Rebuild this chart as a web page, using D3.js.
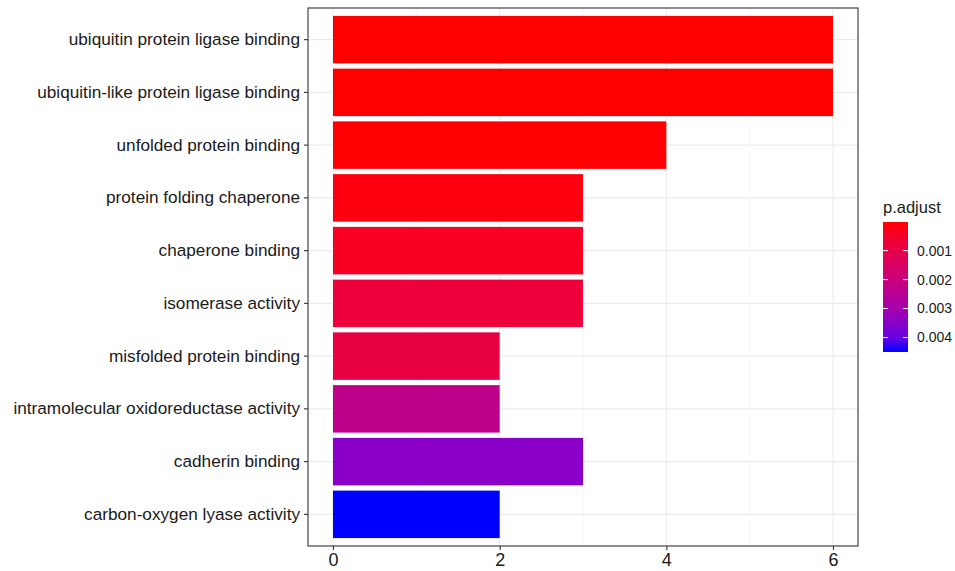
<!DOCTYPE html>
<html>
<head>
<meta charset="utf-8">
<script src="https://cdn.jsdelivr.net/npm/d3@7"></script>
<style>
  html, body { margin: 0; padding: 0; background: #fff; }
  svg { display: block; font-family: "Liberation Sans", Arial, sans-serif; }
</style>
</head>
<body>
<svg id="chart" width="955" height="571"></svg>
<script>
// GO molecular-function enrichment: gene count per term, coloured by adjusted p-value
const terms = [
  "ubiquitin protein ligase binding",
  "ubiquitin-like protein ligase binding",
  "unfolded protein binding",
  "protein folding chaperone",
  "chaperone binding",
  "isomerase activity",
  "misfolded protein binding",
  "intramolecular oxidoreductase activity",
  "cadherin binding",
  "carbon-oxygen lyase activity"
];
const counts = [6, 6, 4, 3, 3, 3, 2, 2, 3, 2];
const pAdjust = [0.00001, 0.00001, 0.00003, 0.00013, 0.00035, 0.00075, 0.0009, 0.0023, 0.0035, 0.0045];
const xTicks = [0, 2, 4, 6];
const legendTicks = [0.001, 0.002, 0.003, 0.004];

const svg = d3.select("#chart");
const panel = { left: 308, top: 8, right: 858, bottom: 546 };

// ggplot-style expansion: 5% on the continuous axis, 0.6 units on the discrete one
const xMax = d3.max(counts);
const x = d3.scaleLinear()
  .domain([-0.05 * xMax, xMax * 1.05])
  .range([panel.left, panel.right]);

const n = terms.length;
const yUnit = (panel.bottom - panel.top) / (n - 1 + 1.2);
const y = d3.scaleBand()
  .domain(terms)
  .range([panel.top + 0.1 * yUnit, panel.bottom - 0.1 * yUnit])
  .paddingInner(0.1)
  .paddingOuter(0.05);

const pExtent = d3.extent(pAdjust);
const color = d3.scaleLinear()
  .domain(pExtent)
  .range(["red", "blue"])
  .interpolate(d3.interpolateLab);

// panel background + grid
svg.append("rect")
  .attr("x", panel.left).attr("y", panel.top)
  .attr("width", panel.right - panel.left).attr("height", panel.bottom - panel.top)
  .attr("fill", "#fff");

const grid = svg.append("g");
const minorTicks = [1, 3, 5];
grid.selectAll("line.minor").data(minorTicks).join("line")
  .attr("x1", d => x(d)).attr("x2", d => x(d))
  .attr("y1", panel.top).attr("y2", panel.bottom)
  .attr("stroke", "#f2f2f2").attr("stroke-width", 0.6);
grid.selectAll("line.vmajor").data(xTicks).join("line")
  .attr("x1", d => x(d)).attr("x2", d => x(d))
  .attr("y1", panel.top).attr("y2", panel.bottom)
  .attr("stroke", "#ebebeb").attr("stroke-width", 1.1);
grid.selectAll("line.hmajor").data(terms).join("line")
  .attr("x1", panel.left).attr("x2", panel.right)
  .attr("y1", d => y(d) + y.bandwidth() / 2).attr("y2", d => y(d) + y.bandwidth() / 2)
  .attr("stroke", "#ebebeb").attr("stroke-width", 1.1);

// bars
svg.append("g").selectAll("rect").data(terms).join("rect")
  .attr("x", x(0))
  .attr("y", d => y(d))
  .attr("width", (d, i) => x(counts[i]) - x(0))
  .attr("height", y.bandwidth())
  .attr("fill", (d, i) => color(pAdjust[i]));

// panel border
svg.append("rect")
  .attr("x", panel.left).attr("y", panel.top)
  .attr("width", panel.right - panel.left).attr("height", panel.bottom - panel.top)
  .attr("fill", "none").attr("stroke", "#333").attr("stroke-width", 1.1);

// y axis
const yAxis = svg.append("g")
  .attr("transform", `translate(${panel.left},0)`)
  .call(d3.axisLeft(y).tickSize(4).tickPadding(4));
yAxis.select(".domain").remove();
yAxis.selectAll(".tick line").attr("stroke", "#333").attr("stroke-width", 1.1);
yAxis.selectAll(".tick text")
  .attr("fill", "#1a1a1a").style("font-size", "17.2px")
  .attr("font-family", "Liberation Sans, Arial, sans-serif");

// x axis
const xAxis = svg.append("g")
  .attr("transform", `translate(0,${panel.bottom})`)
  .call(d3.axisBottom(x).tickValues(xTicks).tickFormat(d3.format("d")).tickSize(4).tickPadding(3));
xAxis.select(".domain").remove();
xAxis.selectAll(".tick line").attr("stroke", "#333").attr("stroke-width", 1.1);
xAxis.selectAll(".tick text")
  .attr("fill", "#1a1a1a").style("font-size", "18px")
  .attr("font-family", "Liberation Sans, Arial, sans-serif");

// colour bar legend
const leg = { x: 883, top: 222, w: 25, h: 130 };
const defs = svg.append("defs");
const grad = defs.append("linearGradient")
  .attr("id", "padjGrad").attr("x1", 0).attr("y1", 0).attr("x2", 0).attr("y2", 1);
d3.range(0, 1.0001, 0.1).forEach(t => {
  grad.append("stop").attr("offset", t)
    .attr("stop-color", color(pExtent[0] + t * (pExtent[1] - pExtent[0])));
});

const legScale = d3.scaleLinear().domain(pExtent).range([leg.top, leg.top + leg.h]);

svg.append("text")
  .attr("x", leg.x).attr("y", leg.top - 9)
  .attr("fill", "#1a1a1a").style("font-size", "16.5px")
  .text("p.adjust");

svg.append("rect")
  .attr("x", leg.x).attr("y", leg.top)
  .attr("width", leg.w).attr("height", leg.h)
  .attr("fill", "url(#padjGrad)");

const lt = svg.append("g").selectAll("g").data(legendTicks).join("g");
lt.append("line")
  .attr("x1", leg.x).attr("x2", leg.x + 5)
  .attr("y1", d => legScale(d)).attr("y2", d => legScale(d))
  .attr("stroke", "#fff").attr("stroke-width", 1);
lt.append("line")
  .attr("x1", leg.x + leg.w - 5).attr("x2", leg.x + leg.w)
  .attr("y1", d => legScale(d)).attr("y2", d => legScale(d))
  .attr("stroke", "#fff").attr("stroke-width", 1);
lt.append("text")
  .attr("x", leg.x + leg.w + 9).attr("y", d => legScale(d))
  .attr("dy", "0.35em")
  .attr("fill", "#1a1a1a").style("font-size", "14px")
  .text(d => d3.format(".3f")(d));
</script>
</body>
</html>
